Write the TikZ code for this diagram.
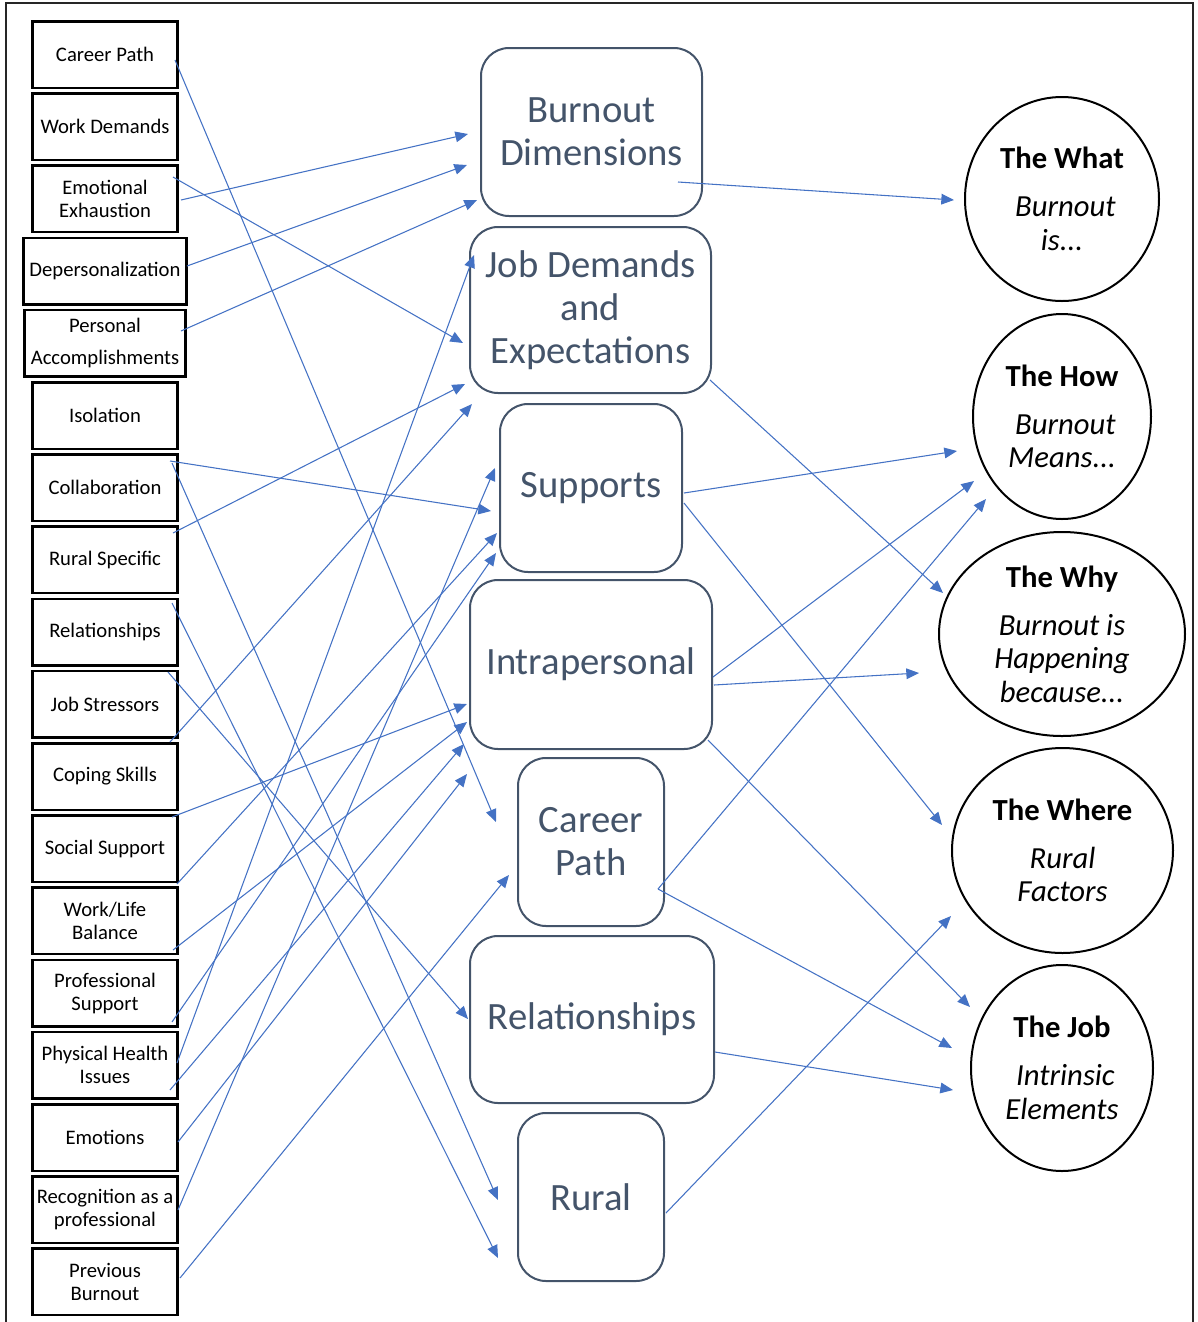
\documentclass[tikz,border=0pt]{standalone}
\usepackage{fontspec}
\setmainfont{Carlito}
\usetikzlibrary{arrows.meta,shapes.geometric}
\definecolor{lnblue}{HTML}{4472C4}
\definecolor{slate}{HTML}{44546A}
\begin{document}
\begin{tikzpicture}[x=0.75pt,y=-0.75pt,
  lbox/.style={draw=black,line width=1.9pt,minimum width=109.1pt,minimum height=49.9pt,inner sep=0pt,align=center,font=\fontsize{15.5}{17.25}\selectfont},
  mbox/.style={draw=slate,line width=1.5pt,rounded corners=21pt,inner sep=0pt,align=center,text=slate,font=\fontsize{29}{32.25}\selectfont},
  cnode/.style={ellipse,draw=black,line width=1.5pt,inner sep=0pt,align=center,font=\fontsize{23}{25.1}\selectfont},
  conn/.style={draw=lnblue,line width=0.8pt,-{Triangle[length=9.5pt,width=8pt]}}
]
\useasboundingbox (0,0) rectangle (1197,1322);
\draw[line width=1.1pt,black!85] (6,1322) -- (6,3) -- (1193,3) -- (1193,1322);

% left column
\node[lbox] (l1) at (105,54.5) {Career Path};
\node[lbox] (l2) at (105,126.7) {Work Demands};
\node[lbox] (l3) at (105,198.9) {Emotional\\Exhaustion};
\node[lbox,minimum width=122.6pt] (l4) at (105,271.1) {Depersonalization};
\node[lbox,minimum width=121.1pt] (l5) at (105,343.3) {Personal\\[6.75pt]Accomplishments};
\node[lbox] (l6) at (105,415.5) {Isolation};
\node[lbox] (l7) at (105,487.7) {Collaboration};
\node[lbox] (l8) at (105,559.9) {Rural Specific};
\node[lbox] (l9) at (105,632.1) {Relationships};
\node[lbox] (l10) at (105,704.3) {Job Stressors};
\node[lbox] (l11) at (105,776.5) {Coping Skills};
\node[lbox] (l12) at (105,848.7) {Social Support};
\node[lbox] (l13) at (105,920.9) {Work/Life\\Balance};
\node[lbox] (l14) at (105,993.1) {Professional\\Support};
\node[lbox] (l15) at (105,1065.3) {Physical Health\\Issues};
\node[lbox] (l16) at (105,1137.5) {Emotions};
\node[lbox] (l17) at (105,1209.7) {Recognition as a\\professional};
\node[lbox] (l18) at (105,1281.9) {Previous\\Burnout};

% middle column
\node[mbox,minimum width=165.75pt,minimum height=126pt] (bd) at (591.5,132) {Burnout\\Dimensions};
\node[mbox,minimum width=180.75pt,minimum height=124.5pt] (jd) at (590.5,310) {Job Demands\\and\\Expectations};
\node[mbox,minimum width=136.5pt,minimum height=126pt] (sup) at (591,488) {Supports};
\node[mbox,minimum width=181.5pt,minimum height=126.75pt] (intra) at (591,664.5) {Intrapersonal};
\node[mbox,minimum width=109.5pt,minimum height=126pt] (cp) at (591,842) {Career\\Path};
\node[mbox,minimum width=183pt,minimum height=125.25pt] (rel) at (592,1019.5) {Relationships};
\node[mbox,minimum width=109.5pt,minimum height=126pt] (rural) at (591,1197) {Rural};

% right column
\node[cnode,minimum width=145.5pt,minimum height=153pt] (what) at (1062,199) {\textbf{The What}\\[11pt]\textit{\hspace*{0.226em}Burnout}\\\textit{is...}};
\node[cnode,minimum width=133.5pt,minimum height=153.75pt] (how) at (1062,416.5) {\textbf{The How}\\[11pt]\textit{\hspace*{0.226em}Burnout}\\\textit{Means...}};
\node[cnode,minimum width=184.5pt,minimum height=153pt] (why) at (1062,634) {\textbf{The Why}\\[11pt]\textit{Burnout is}\\\textit{Happening}\\\textit{because...}};
\node[cnode,minimum width=165.75pt,minimum height=153.75pt] (where) at (1062.5,850.5) {\textbf{The Where}\\[11pt]\textit{Rural}\\\textit{Factors}};
\node[cnode,minimum width=136.5pt,minimum height=154.5pt] (job) at (1062,1068) {\textbf{The Job}\\[11pt]\textit{\hspace*{0.226em}Intrinsic}\\\textit{Elements}};

% connectors left -> middle
\draw[conn] ([shift={(70,5.5)}]l1.center) -- ([shift={(-95,-20)}]cp.center);
\draw[conn] ([shift={(76,1.1)}]l3.center) -- ([shift={(-123.5,2)}]bd.center);
\draw[conn] ([shift={(68,-21.9)}]l3.center) -- ([shift={(-127.5,33)}]jd.center);
\draw[conn] ([shift={(82,-5.1)}]l4.center) -- ([shift={(-124.5,33)}]bd.center);
\draw[conn] ([shift={(76,-12.3)}]l5.center) -- ([shift={(-114.5,68)}]bd.center);
\draw[conn] ([shift={(65,-26.7)}]l7.center) -- ([shift={(-100,23)}]sup.center);
\draw[conn] ([shift={(67,-24.7)}]l7.center) -- ([shift={(-93,3)}]rural.center);
\draw[conn] ([shift={(68,-26.9)}]l8.center) -- ([shift={(-125.5,74)}]jd.center);
\draw[conn] ([shift={(67,-29.1)}]l9.center) -- ([shift={(-93,61)}]rural.center);
\draw[conn] ([shift={(65,37.7)}]l10.center) -- ([shift={(-118.5,94)}]jd.center);
\draw[conn] ([shift={(63,-32.3)}]l10.center) -- ([shift={(-124,-0.5)}]rel.center);
\draw[conn] ([shift={(67,40.5)}]l11.center) -- ([shift={(-124,39.5)}]intra.center);
\draw[conn] ([shift={(72,35.3)}]l12.center) -- ([shift={(-94,45)}]sup.center);
\draw[conn] ([shift={(68,29.1)}]l13.center) -- ([shift={(-124,57.5)}]intra.center);
\draw[conn] ([shift={(67,28.9)}]l14.center) -- ([shift={(-95,65)}]sup.center);
\draw[conn] ([shift={(72,-2.3)}]l15.center) -- ([shift={(-116.5,-55)}]jd.center);
\draw[conn] ([shift={(65,24.7)}]l15.center) -- ([shift={(-127,79.5)}]intra.center);
\draw[conn] ([shift={(73,4.5)}]l16.center) -- ([shift={(-124,109.5)}]intra.center);
\draw[conn] ([shift={(73,0.3)}]l17.center) -- ([shift={(-96,-20)}]sup.center);
\draw[conn] ([shift={(75,-3.9)}]l18.center) -- ([shift={(-82,33)}]cp.center);

% connectors middle -> right
\draw[conn] ([shift={(86.5,50)}]bd.center) -- ([shift={(-108,1)}]what.center);
\draw[conn] ([shift={(119.5,70)}]jd.center) -- ([shift={(-119,-41)}]why.center);
\draw[conn] ([shift={(93,5)}]sup.center) -- ([shift={(-105,34.5)}]how.center);
\draw[conn] ([shift={(93,15)}]sup.center) -- ([shift={(-120.5,-25.5)}]where.center);
\draw[conn] ([shift={(122,12.5)}]intra.center) -- ([shift={(-88,64.5)}]how.center);
\draw[conn] ([shift={(123,20.5)}]intra.center) -- ([shift={(-143,39)}]why.center);
\draw[conn] ([shift={(117,75.5)}]intra.center) -- ([shift={(-92,-61)}]job.center);
\draw[conn] ([shift={(67,47)}]cp.center) -- ([shift={(-76,82.5)}]how.center);
\draw[conn] ([shift={(67,47)}]cp.center) -- ([shift={(-110,-20)}]job.center);
\draw[conn] ([shift={(123,32.5)}]rel.center) -- ([shift={(-109,22)}]job.center);
\draw[conn] ([shift={(75,16)}]rural.center) -- ([shift={(-111.5,65.5)}]where.center);
\end{tikzpicture}
\end{document}
